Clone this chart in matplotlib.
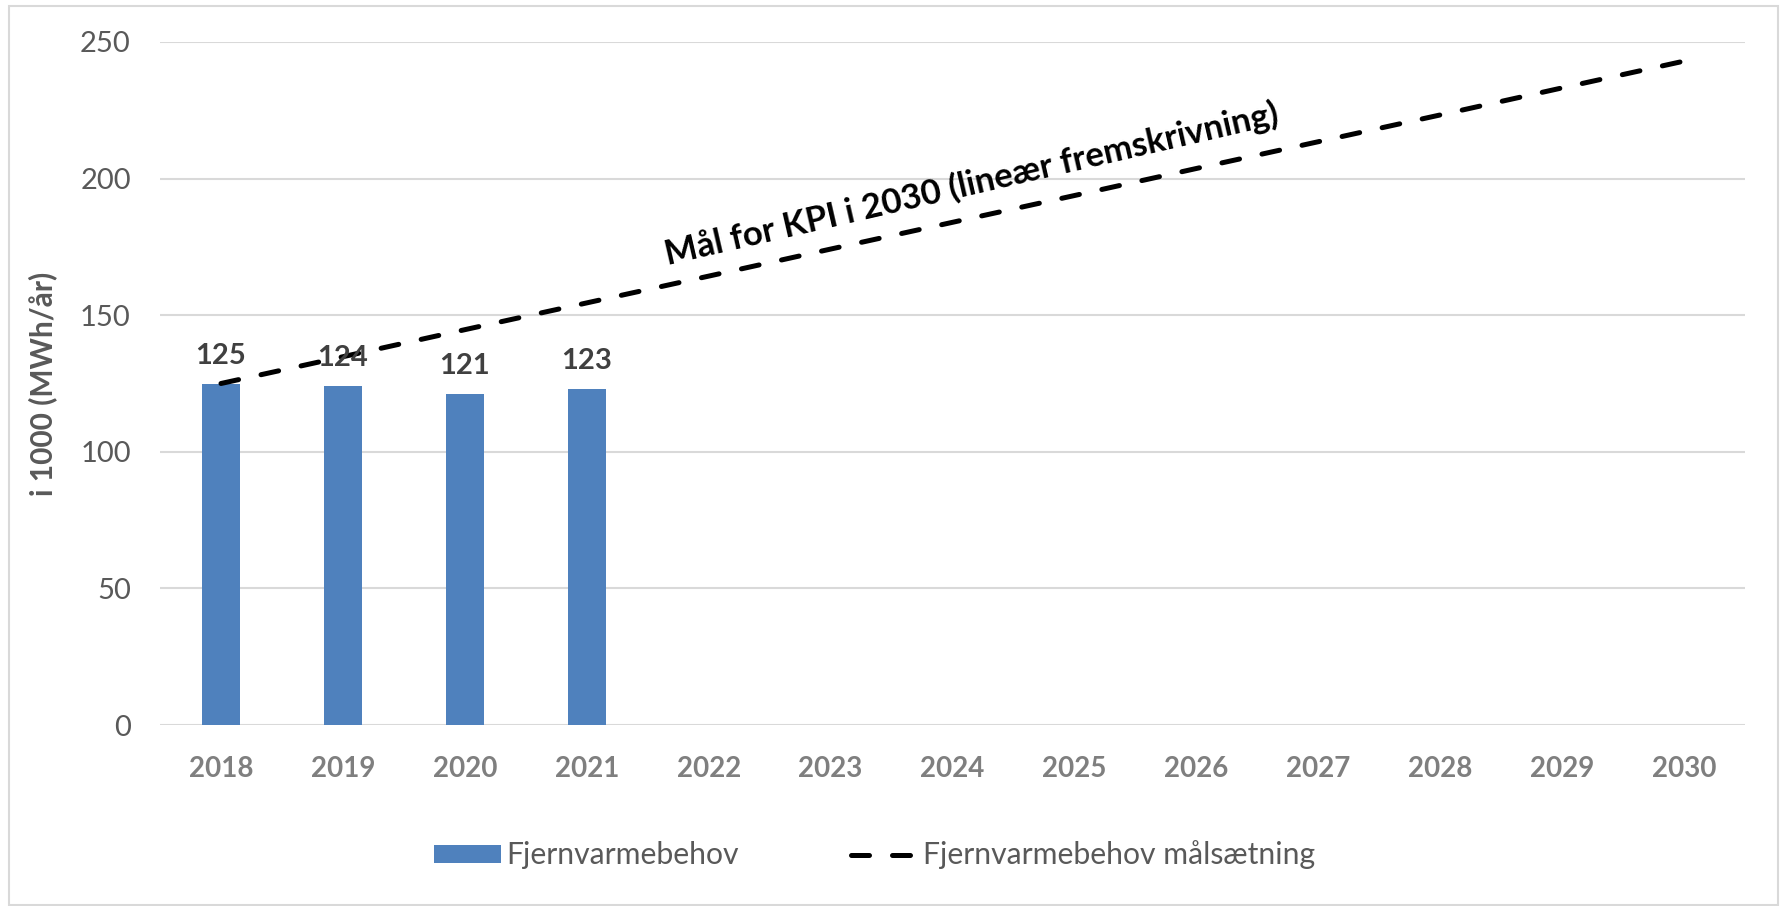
import matplotlib
matplotlib.use('Agg')
import matplotlib.pyplot as plt
from matplotlib.patches import Rectangle

plt.rcParams['font.family'] = ['Lato', 'DejaVu Sans']

years       = ["2018", "2019", "2020", "2021", "2022", "2023", "2024",
               "2025", "2026", "2027", "2028", "2029", "2030"]
demand      = [125, 124, 121.3, 123]
demandLbl   = ["125", "124", "121", "123"]
target      = [125, 134.8, 144.7, 154.5, 164.3, 174.2, 184.0,
               193.8, 203.7, 213.5, 223.3, 233.2, 243.0]
yTicks      = [0, 50, 100, 150, 200, 250]

W, H = 1785, 906
fig = plt.figure(figsize=(W/100, H/100), dpi=100)
ax  = fig.add_axes([160/W, 1-725/H, (1745-160)/W, (725-42)/H])

x = list(range(len(years)))
bars = ax.bar(x[:len(demand)], demand, width=0.31, color="#4F81BD", zorder=2,
              label="Fjernvarmebehov")
line, = ax.plot(x, target, color="black", linewidth=3.6,
                linestyle=(0, (3.6, 4.6)), dash_capstyle="round", zorder=3,
                label="Fjernvarmebehov målsætning")

for i, (v, t) in enumerate(zip(demand, demandLbl)):
    ax.text(i, v + 7.3, t, ha="center", va="baseline", fontsize=21,
            fontweight="bold", color="#404040", zorder=4)

ax.text(6.16, 198, "Mål for KPI i 2030 (lineær fremskrivning)", rotation=13,
        ha="center", va="center", fontsize=25, fontweight="bold",
        color="black", rotation_mode="anchor", zorder=4)

ax.set_xlim(-0.5, len(years)-0.5)
ax.set_ylim(0, 250)
ax.set_yticks(yTicks)
ax.set_xticks(x)
ax.set_xticklabels(years, fontsize=20, fontweight="bold", color="#7F7F7F")
ax.tick_params(axis="y", labelsize=21, labelcolor="#595959", length=0, pad=21)
ax.tick_params(axis="x", length=0, pad=22)
ax.grid(axis="y", color="#D9D9D9", linewidth=1.5, zorder=0)
ax.set_axisbelow(True)
for s in ax.spines.values():
    s.set_visible(False)

ax.set_ylabel("i 1000 (MWh/år)", fontsize=21.5, fontweight="bold",
              color="#595959")
ax.yaxis.set_label_coords((57-160)/(1745-160), 0.5)

fig.legend(handles=[bars, line], loc="center",
           bbox_to_anchor=(0.49, 1-855/H), ncol=2,
           frameon=False, fontsize=21.7, labelcolor="#595959",
           handlelength=2.2, handleheight=0.55, handletextpad=0.2,
           columnspacing=3.7)

fig.patches.append(Rectangle((9/W, 1-905/H), (1778-9)/W, (905-6)/H,
                             transform=fig.transFigure, fill=False,
                             edgecolor="#D9D9D9", linewidth=1.5))

plt.savefig("out.png", dpi=100)
